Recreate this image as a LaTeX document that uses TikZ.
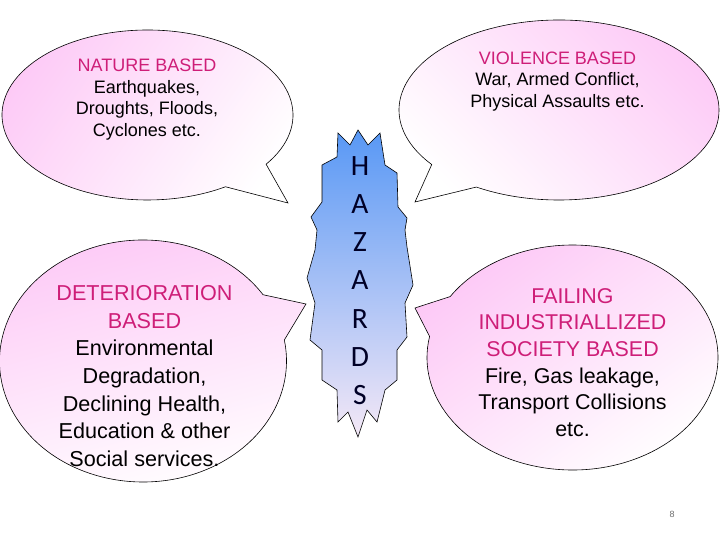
\documentclass[tikz,border=0pt]{standalone}
\usepackage{fontspec}
\setmainfont{Liberation Sans}
\newfontfamily\carlitofont{Carlito}
\definecolor{bubpink}{RGB}{253,200,246}
\definecolor{hazmag}{RGB}{206,30,120}
\definecolor{hazblue}{RGB}{88,152,245}
\definecolor{hazlav}{RGB}{244,232,246}
\definecolor{pgnum}{RGB}{110,110,110}
\begin{document}
\begin{tikzpicture}[x=1pt,y=1pt,
  bubble/.style={draw=black, line width=0.6pt, top color=bubpink, bottom color=white},
  btext/.style={align=center, inner sep=0pt, text=black},
  smalltext/.style={btext, font=\fontsize{18}{21.7}\selectfont},
  bigtext/.style={btext, font=\fontsize{21.6}{27.6}\selectfont},
  hazshape/.style={draw=black, line width=0.6pt, top color=hazblue, bottom color=hazlav},
  haztext/.style={align=center, inner sep=0pt, font=\carlitofont\fontsize{29.5}{38.2}\selectfont, text=black!85!blue}
]
\useasboundingbox (0,0) rectangle (720,540);
\fill[white] (0,0) rectangle (720,540);

% Bubble 1: nature
\path[bubble, shading angle=55] (147.5,425) ++(-35.4:145.5 and 85)
  arc[start angle=-35.4, end angle=302.4, x radius=145.5, y radius=85]
  -- (288,337) -- cycle;
% Bubble 2: violence
\path[bubble, shading angle=-45] (559,430) ++(238.9:160 and 90)
  arc[start angle=238.9, end angle=577.3, x radius=160, y radius=90]
  -- (415,338) -- cycle;
% Bubble 3: deterioration
\path[bubble, shading angle=15] (143,179) ++(33.2:143.5 and 121)
  arc[start angle=33.2, end angle=370, x radius=143.5, y radius=121]
  -- (306,236) -- cycle;
% Bubble 4: failing industrialized
\path[bubble, shading angle=35] (572.5,182.5) ++(169.2:145.5 and 112.5)
  arc[start angle=169.2, end angle=507.2, x radius=145.5, y radius=112.5]
  -- (415,232) -- cycle;

% Hazards shape
\path[hazshape] (358,410) -- (368,395) -- (380,407) -- (385,375) -- (397,367)
  -- (398,333) -- (407,322) -- (405,310) -- (407,293) -- (413,255) -- (405,237)
  -- (407,203) -- (397,190) -- (397,160) -- (385,150) -- (377,118) -- (367,130)
  -- (358,103) -- (348,128) -- (338,118) -- (337,150) -- (322,160) -- (322,190)
  -- (310,200) -- (315,237) -- (307,262) -- (315,290) -- (317,310) -- (311,323)
  -- (322,338) -- (322,375) -- (337,383) -- (338,407) -- (350,395) -- cycle;

\node[smalltext] (nature) at (147,440.5) {\textcolor{hazmag}{NATURE BASED}\\Earthquakes,\\Droughts, Floods,\\Cyclones etc.};
\node[smalltext] (violence) at (557.5,458.5) {\textcolor{hazmag}{VIOLENCE BASED}\\War, Armed Conflict,\\Physical Assaults etc.};
\node[bigtext] (deterioration) at (144.5,164) {\textcolor{hazmag}{DETERIORATION}\\\textcolor{hazmag}{BASED}\\Environmental\\Degradation,\\Declining Health,\\Education \& other\\Social services.};
\node[btext, font=\fontsize{21.4}{26.6}\selectfont] (failing) at (572.5,177.5) {\textcolor{hazmag}{FAILING}\\\textcolor{hazmag}{INDUSTRIALLIZED}\\\textcolor{hazmag}{SOCIETY BASED}\\Fire, Gas leakage,\\Transport Collisions\\etc.};
\node[haztext] (hazards) at (360,259.5) {H\\A\\Z\\A\\R\\D\\S};
\node[text=pgnum, font=\fontsize{9}{10}\selectfont, inner sep=0pt] (page) at (672,26) {8};
\end{tikzpicture}
\end{document}
